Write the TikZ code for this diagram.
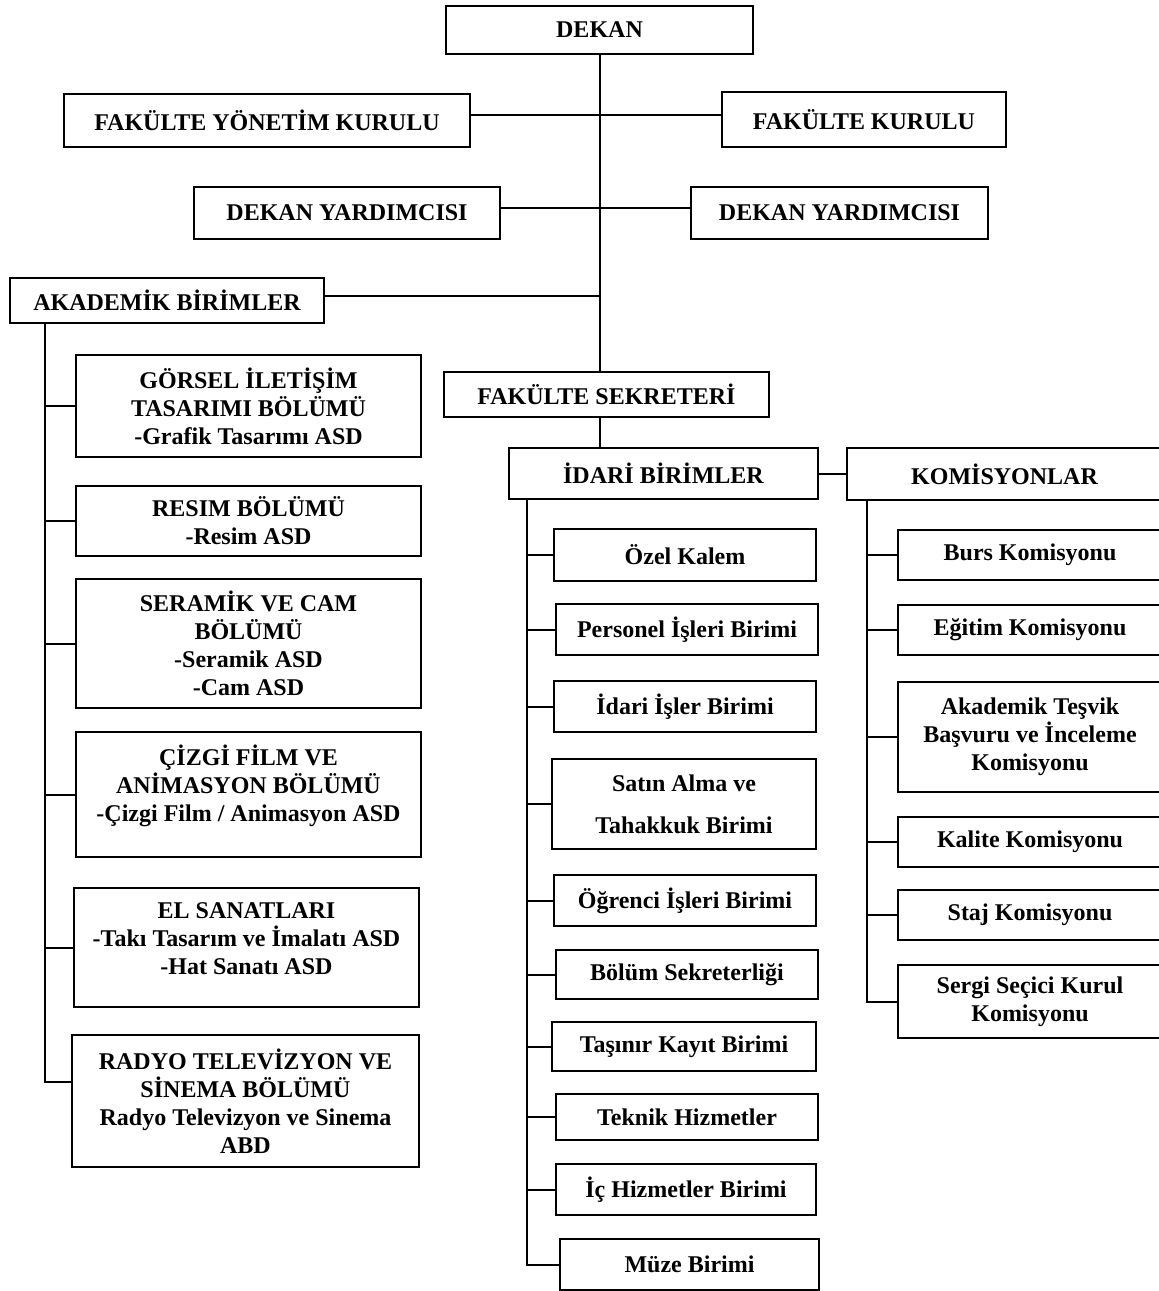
\documentclass[tikz,border=0pt]{standalone}
\usepackage{fontspec}
\setmainfont{Liberation Serif}
\newcommand\orgbox[6]{\node[box, minimum width={(#4-#2)*0.5pt}, minimum height={(#5-#3)*0.5pt}] (#1) at ({(#2+#4)/2},{(#3+#5)/2}) {#6};}
\tikzset{
  box/.style={draw=black, line width=1pt, inner sep=0pt, align=center,
    font=\fontsize{12}{14}\selectfont\bfseries},
  link/.style={draw=black, line width=1pt}
}
\begin{document}
\begin{tikzpicture}[x=0.5pt, y=-0.5pt]
\useasboundingbox (0,0) rectangle (1159,1291);
\fill[white] (0,0) rectangle (1159,1291);
% top level
\orgbox{dekan}{446}{6}{753}{54}{DEKAN}
\orgbox{fyk}{64}{94}{470}{147}{FAKÜLTE YÖNETİM KURULU}
\orgbox{fk}{722}{92}{1006}{147}{FAKÜLTE KURULU}
\orgbox{dy1}{194}{187}{500}{239}{DEKAN YARDIMCISI}
\orgbox{dy2}{691}{187}{988}{239}{DEKAN YARDIMCISI}
\orgbox{akb}{10}{278}{324}{323}{AKADEMİK BİRİMLER}
\orgbox{sek}{444}{372}{769}{417}{FAKÜLTE SEKRETERİ}
\orgbox{idari}{509}{448}{818}{499}{İDARİ BİRİMLER}
\orgbox{kom}{847}{448}{1162}{500}{KOMİSYONLAR}
% academic units
\orgbox{gorsel}{76}{355}{421}{457}{GÖRSEL İLETİŞİM\\TASARIMI BÖLÜMÜ\\-Grafik Tasarımı ASD}
\orgbox{resim}{76}{486}{421}{556}{RESIM BÖLÜMÜ\\-Resim ASD}
\orgbox{seramik}{76}{579}{421}{708}{SERAMİK VE CAM\\BÖLÜMÜ\\-Seramik ASD\\-Cam ASD}
\orgbox{cizgi}{76}{732}{421}{857}{ÇİZGİ FİLM VE\\ANİMASYON BÖLÜMÜ\\-Çizgi Film / Animasyon ASD\\[-3pt]\mbox{}}
\orgbox{el}{74}{888}{419}{1007}{EL SANATLARI\\-Takı Tasarım ve İmalatı ASD\\-Hat Sanatı ASD\\[-5.5pt]\mbox{}}
\orgbox{radyo}{72}{1035}{419}{1167}{RADYO TELEVİZYON VE\\SİNEMA BÖLÜMÜ\\Radyo Televizyon ve Sinema\\ABD}
% administrative units
\orgbox{ozel}{554}{529}{816}{581}{Özel Kalem}
\orgbox{pers}{556}{604}{818}{655}{Personel İşleri Birimi}
\orgbox{idis}{554}{681}{816}{732}{İdari İşler Birimi}
\orgbox{satin}{552}{759}{816}{849}{Satın Alma ve\\[7pt]Tahakkuk Birimi}
\orgbox{ogr}{554}{875}{816}{926}{Öğrenci İşleri Birimi}
\orgbox{bolum}{556}{950}{818}{999}{Bölüm Sekreterliği}
\orgbox{tasinir}{552}{1022}{816}{1071}{Taşınır Kayıt Birimi}
\orgbox{teknik}{556}{1094}{818}{1140}{Teknik Hizmetler}
\orgbox{ic}{556}{1164}{816}{1215}{İç Hizmetler Birimi}
\orgbox{muze}{560}{1239}{819}{1290}{Müze Birimi}
% commissions
\orgbox{burs}{898}{530}{1162}{580}{Burs Komisyonu}
\orgbox{egitim}{898}{605}{1162}{655}{Eğitim Komisyonu}
\orgbox{akt}{898}{682}{1162}{792}{Akademik Teşvik\\Başvuru ve İnceleme\\Komisyonu}
\orgbox{kalite}{898}{817}{1162}{867}{Kalite Komisyonu}
\orgbox{staj}{898}{890}{1162}{940}{Staj Komisyonu}
\orgbox{sergi}{898}{965}{1162}{1038}{Sergi Seçici Kurul\\Komisyonu}
% main connectors
\draw[link] (dekan.south) -- (dekan.south |- sek.north);
\draw[link] ([yshift=3pt]fyk.east) -- ([yshift=3pt]fyk.east -| fk.west);
\draw[link] ([yshift=2.5pt]dy1.east) -- ([yshift=2.5pt]dy1.east -| dy2.west);
\draw[link] ([yshift=2.25pt]akb.east) -- ([yshift=2.25pt]akb.east -| dekan.south);
\draw[link] (dekan.south |- sek.south) -- (dekan.south |- idari.north);
\draw[link] (idari.east) -- (idari.east -| kom.west);
% academic trunk
\coordinate (atr) at ([xshift=18pt]akb.south west);
\draw[link] (atr) |- ([yshift=9.5pt]radyo.west);
\foreach \n in {gorsel,resim,seramik,cizgi,el}
  \draw[link] (\n.west) -- (\n.west -| atr);
% administrative trunk
\coordinate (itr) at ([xshift=9.5pt]idari.south west);
\draw[link] (itr) |- (muze.west);
\foreach \n in {ozel,pers,idis,satin,ogr,bolum,tasinir,teknik,ic}
  \draw[link] (\n.west) -- (\n.west -| itr);
% commissions trunk
\coordinate (ktr) at ([xshift=10.5pt]kom.south west);
\draw[link] (ktr) |- (sergi.west);
\foreach \n in {burs,egitim,akt,kalite,staj}
  \draw[link] (\n.west) -- (\n.west -| ktr);
\end{tikzpicture}
\end{document}
